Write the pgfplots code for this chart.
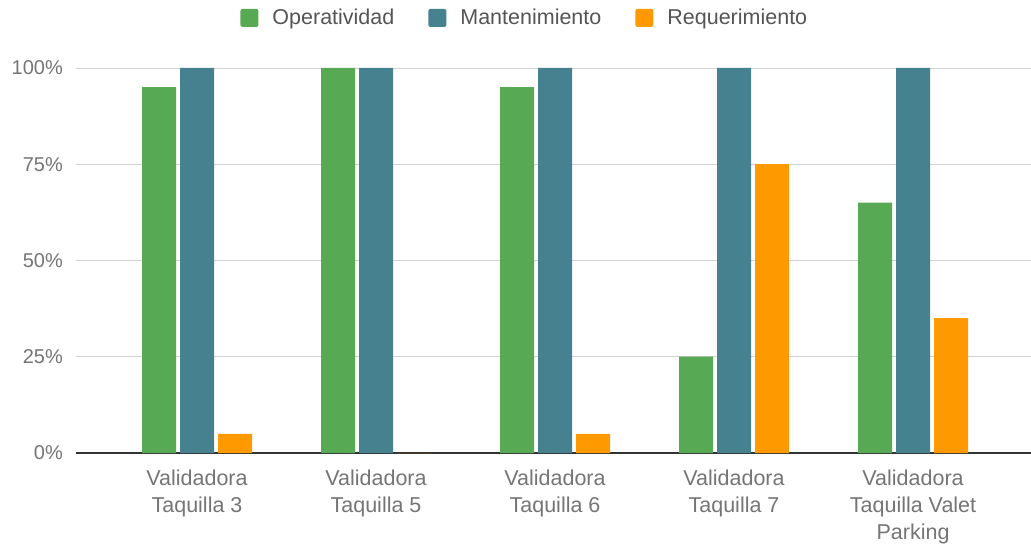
\documentclass[border=0pt]{standalone}
\usepackage{pgfplots}
\pgfplotsset{compat=1.18}
\usepackage{fontspec}
\setmainfont{Liberation Sans}
\definecolor{opgreen}{RGB}{87,169,84}
\definecolor{mantteal}{RGB}{69,129,142}
\definecolor{reqorange}{RGB}{255,153,0}
\definecolor{labelgray}{RGB}{117,117,117}
\definecolor{legendgray}{RGB}{85,85,85}
\definecolor{gridgray}{RGB}{210,210,210}
\begin{document}
\begin{tikzpicture}
\path[use as bounding box] (-76pt,-93pt) rectangle (955pt,453pt);
\begin{axis}[
    scale only axis,
    width=955pt, height=385pt,
    ybar=4pt,
    bar width=34pt,
    xmin=-0.676, xmax=4.659,
    ymin=0, ymax=100,
    xtick={0,1,2,3,4},
    xticklabels={Validadora\\Taquilla 3, Validadora\\Taquilla 5, Validadora\\Taquilla 6, Validadora\\Taquilla 7, Validadora\\Taquilla Valet\\Parking},
    ytick={0,25,50,75,100},
    yticklabels={0\%,25\%,50\%,75\%,100\%},
    major tick length=0pt,
    axis y line*=left,
    y axis line style={draw=none},
    axis x line*=bottom,
    x axis line style={draw=black!80, line width=1.2pt, -},
    ymajorgrids,
    grid style={gridgray, line width=0.8pt},
    xticklabel style={font=\fontsize{21.5}{27}\selectfont, text=labelgray, align=center, anchor=north, inner sep=0pt, yshift=-17pt},
    yticklabel style={font=\fontsize{20}{24}\selectfont, text=labelgray, anchor=east, inner sep=0pt, xshift=-13pt},
    /pgf/number format/assume math mode=true,
    legend columns=-1,
    legend style={draw=none, fill=none, at={(0.47,1.13)}, anchor=center,
        font=\fontsize{21.5}{24}\selectfont, text=legendgray,
        /tikz/every even column/.append style={column sep=32pt}},
    legend image code/.code={\fill[#1, rounded corners=2pt] (0pt,-9pt) rectangle (18pt,9pt); \path (30pt,0pt);},
]
\addplot[fill=opgreen, draw=none] coordinates {(0,95) (1,100) (2,95) (3,25) (4,65)};
\addplot[fill=mantteal, draw=none] coordinates {(0,100) (1,100) (2,100) (3,100) (4,100)};
\addplot[fill=reqorange, draw=none] coordinates {(0,5) (1,0) (2,5) (3,75) (4,35)};
\legend{Operatividad, Mantenimiento, Requerimiento}
\end{axis}
\end{tikzpicture}
\end{document}
